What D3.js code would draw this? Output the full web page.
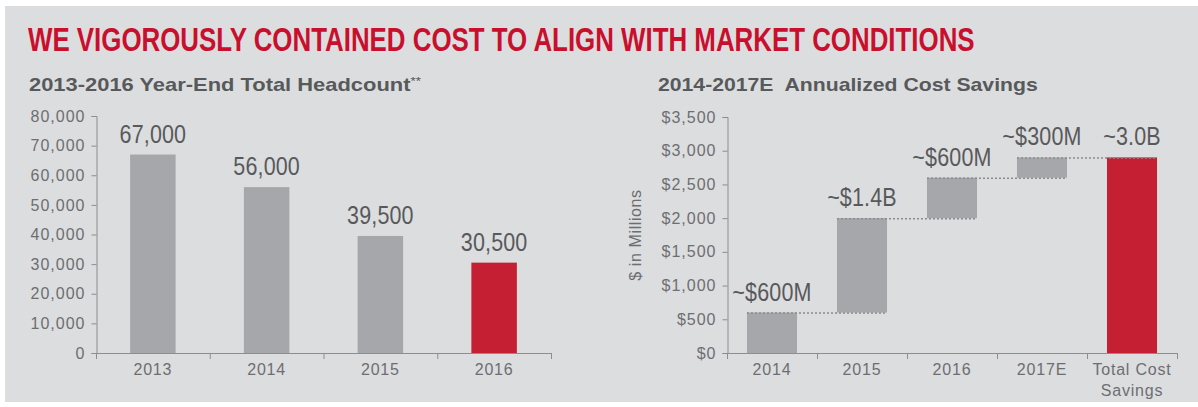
<!DOCTYPE html>
<html>
<head>
<meta charset="utf-8">
<script src="https://cdn.jsdelivr.net/npm/d3@7"></script>
<style>
  html, body { margin: 0; padding: 0; background: #fff; }
  svg { display: block; }
  .tick text { font-family: "Liberation Sans", Arial, sans-serif; font-size: 16px; fill: #6d6e71; letter-spacing: 1px; }
  .tick line, .domain { stroke: #8c8d90; }
</style>
</head>
<body>
<div id="chart"></div>
<script>
// headcount chart
var headYears = ["2013", "2014", "2015", "2016"];
var headcount = [67000, 56000, 39500, 30500];
var headTicks = [0, 10000, 20000, 30000, 40000, 50000, 60000, 70000, 80000];

// cost savings waterfall
var savingCats = ["2014", "2015", "2016", "2017E", "Total Cost Savings"];
var savingSteps = [600, 1400, 600, 300];
var savingLabels = ["~$600M", "~$1.4B", "~$600M", "~$300M", "~3.0B"];
var savingTicks = [0, 500, 1000, 1500, 2000, 2500, 3000, 3500];

var GREY = "#a6a7aa";
var RED = "#c41f33";
var BASE_FONT = '"Liberation Sans", Arial, sans-serif';
var NARROW = 0.86; // value labels are a condensed face in the original

var svg = d3.select("#chart").append("svg")
  .attr("width", 1198)
  .attr("height", 407);

svg.append("rect")
  .attr("x", 5).attr("y", 6)
  .attr("width", 1193).attr("height", 396)
  .attr("fill", "#dcdddf");

// title: squeeze a bold face horizontally to get the condensed look
var title = svg.append("text")
  .attr("x", 0).attr("y", 0)
  .style("font-family", BASE_FONT)
  .style("font-weight", "bold")
  .style("font-size", "33px")
  .style("fill", "#c8102e")
  .text("WE VIGOROUSLY CONTAINED COST TO ALIGN WITH MARKET CONDITIONS");
var tw = title.node().getComputedTextLength();
title.attr("transform", "translate(28,51) scale(" + (947 / tw) + ",1)");

function subtitle(x, len, txt, note) {
  var t = svg.append("text")
    .attr("x", 0).attr("y", 0)
    .style("font-family", BASE_FONT)
    .style("font-weight", "bold")
    .style("font-size", "18px")
    .style("white-space", "pre")
    .style("fill", "#58595b");
  t.append("tspan").text(txt);
  if (note) {
    t.append("tspan").attr("dy", -6).style("font-size", "11px").style("font-weight", "normal").text(note);
  }
  var w = t.node().getComputedTextLength();
  t.attr("transform", "translate(" + x + ",91) scale(" + (len / w) + ",1)");
}
subtitle(29, 392, "2013-2016 Year-End Total Headcount", "**");
subtitle(658, 380, "2014-2017E  Annualized Cost Savings");

// draws the category axis: ticks between bands, labels under the bands
function bandAxis(x, y0) {
  var r = x.range();
  var g = svg.append("g");
  g.append("line")
    .attr("x1", r[0]).attr("x2", r[1])
    .attr("y1", y0 + 0.5).attr("y2", y0 + 0.5)
    .attr("stroke", "#8c8d90");
  g.selectAll("line.tk").data(d3.range(x.domain().length + 1)).enter()
    .append("line").attr("class", "tk")
    .attr("x1", function(i) { return r[0] + i * x.step() + 0.5; })
    .attr("x2", function(i) { return r[0] + i * x.step() + 0.5; })
    .attr("y1", y0).attr("y2", y0 + 6)
    .attr("stroke", "#8c8d90");
  var lbl = g.selectAll("text").data(x.domain()).enter()
    .append("text")
    .attr("text-anchor", "middle")
    .style("font-family", BASE_FONT)
    .style("font-size", "16px")
    .style("letter-spacing", "0.8px")
    .style("fill", "#6d6e71");
  lbl.each(function(d) {
    var t = d3.select(this);
    var cx = x(d) + x.bandwidth() / 2;
    var lines = d.length > 10 ? [d.slice(0, d.lastIndexOf(" ")), d.slice(d.lastIndexOf(" ") + 1)] : [d];
    lines.forEach(function(s, i) {
      t.append("tspan").attr("x", cx).attr("y", y0 + 22 + i * 21).text(s);
    });
  });
}

function valueLabel(sel) {
  sel.attr("text-anchor", "middle")
    .style("font-family", BASE_FONT)
    .style("font-size", "25px")
    .style("letter-spacing", "0.2px")
    .style("fill", "#58595b");
}

// ---- left: headcount ----
var xL = d3.scaleBand().domain(headYears).range([96, 551]).paddingInner(0.6).paddingOuter(0.3);
var yL = d3.scaleLinear().domain([0, 80000]).range([353, 116]);

svg.append("g")
  .attr("transform", "translate(96.5,0)")
  .call(d3.axisLeft(yL).tickValues(headTicks).tickSize(5).tickSizeOuter(5).tickPadding(6).tickFormat(d3.format(",")));

svg.selectAll("rect.head").data(headcount).enter()
  .append("rect").attr("class", "head")
  .attr("x", function(d, i) { return xL(headYears[i]); })
  .attr("y", function(d) { return yL(d); })
  .attr("width", xL.bandwidth())
  .attr("height", function(d) { return yL(0) - yL(d); })
  .attr("fill", function(d, i) { return i == headcount.length - 1 ? RED : GREY; });

svg.selectAll("text.head").data(headcount).enter()
  .append("text").attr("class", "head")
  .attr("transform", function(d, i) {
    return "translate(" + (xL(headYears[i]) + xL.bandwidth() / 2) + "," + (yL(d) - 12) + ") scale(" + NARROW + ",1)";
  })
  .call(valueLabel)
  .text(d3.format(","));

bandAxis(xL, 353);

// ---- right: cost savings waterfall ----
var xR = d3.scaleBand().domain(savingCats).range([727, 1177]).paddingInner(0.444).paddingOuter(0.222);
var yR = d3.scaleLinear().domain([0, 3500]).range([353, 117]);

var bars = [];
var cum = 0;
savingSteps.forEach(function(v, i) {
  bars.push({cat: savingCats[i], y0: cum, y1: cum + v, total: false});
  cum += v;
});
bars.push({cat: savingCats[savingCats.length - 1], y0: 0, y1: cum, total: true});

svg.append("g")
  .attr("transform", "translate(727.5,0)")
  .call(d3.axisLeft(yR).tickValues(savingTicks).tickSize(5).tickSizeOuter(5).tickPadding(6)
    .tickFormat(function(d) { return "$" + d3.format(",")(d); }));

svg.append("text")
  .attr("transform", "translate(641,235) rotate(-90)")
  .attr("text-anchor", "middle")
  .style("font-family", BASE_FONT)
  .style("font-size", "16px")
  .style("letter-spacing", "0.6px")
  .style("fill", "#6d6e71")
  .text("$ in Millions");

svg.selectAll("rect.save").data(bars).enter()
  .append("rect").attr("class", "save")
  .attr("x", function(d) { return xR(d.cat); })
  .attr("y", function(d) { return yR(d.y1); })
  .attr("width", xR.bandwidth())
  .attr("height", function(d) { return yR(d.y0) - yR(d.y1); })
  .attr("fill", function(d) { return d.total ? RED : GREY; });

// dotted connectors from each step to the next bar
svg.selectAll("line.conn").data(bars.slice(0, bars.length - 1)).enter()
  .append("line").attr("class", "conn")
  .attr("x1", function(d) { return xR(d.cat); })
  .attr("x2", function(d, i) { return xR(bars[i + 1].cat) + xR.bandwidth(); })
  .attr("y1", function(d) { return yR(d.y1) + 0.5; })
  .attr("y2", function(d) { return yR(d.y1) + 0.5; })
  .attr("stroke", "#8a8b8e")
  .attr("stroke-width", 1.5)
  .attr("stroke-dasharray", "2,2");

svg.selectAll("text.save").data(bars).enter()
  .append("text").attr("class", "save")
  .attr("transform", function(d) {
    return "translate(" + (xR(d.cat) + xR.bandwidth() / 2) + "," + (yR(d.y1) - 12) + ") scale(" + NARROW + ",1)";
  })
  .call(valueLabel)
  .text(function(d, i) { return savingLabels[i]; });

bandAxis(xR, 353);
</script>
</body>
</html>
